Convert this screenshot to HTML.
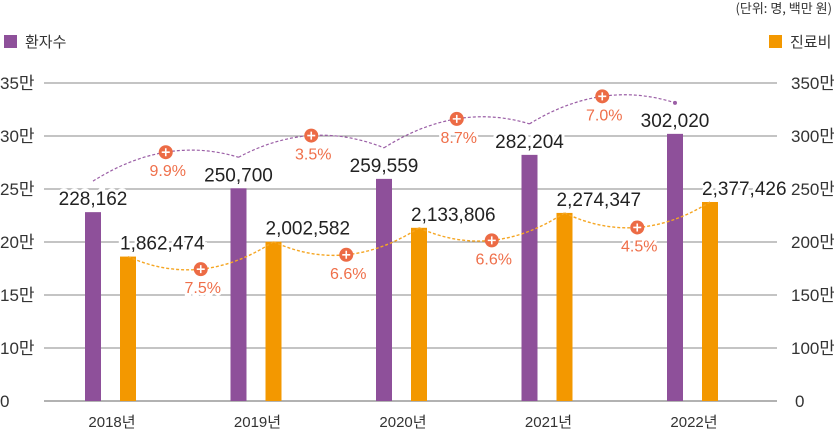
<!DOCTYPE html>
<html><head><meta charset="utf-8"><style>
html,body{margin:0;padding:0;background:#fff;}
svg{display:block;font-family:"Liberation Sans Narrow","Liberation Sans","Noto Sans CJK KR",sans-serif;}
</style></head><body>
<svg id="chart" width="834" height="429" viewBox="0 0 834 429" xmlns="http://www.w3.org/2000/svg">
<text x="832" y="13" text-anchor="end" font-size="13" fill="#333" font-family="Liberation Sans Narrow, Noto Sans CJK KR, sans-serif">(단위: 명, 백만 원)</text>
<g>
<rect x="4" y="35" width="13" height="13" fill="#8e509a"/>
<text x="25" y="47" font-size="15" fill="#333" font-family="Liberation Sans, Noto Sans CJK KR, sans-serif">환자수</text>
</g>
<g>
<rect x="769" y="35" width="13" height="13" fill="#f39800"/>
<text x="790" y="47" font-size="15" fill="#333" font-family="Liberation Sans, Noto Sans CJK KR, sans-serif">진료비</text>
</g>
<g id="grid"></g>
<g id="bars"></g>
<g id="curves"></g>
<g id="labels"></g>
</svg>
<script>
const years = ["2018년","2019년","2020년","2021년","2022년"];
const patients = [228162,250700,259559,282204,302020];
const costs = [1862474,2002582,2133806,2274347,2377426];
const patientGrowth = ["9.9%","3.5%","8.7%","7.0%"];
const costGrowth = ["7.5%","6.6%","6.6%","4.5%"];
const leftTickValues = [50000,100000,150000,200000,250000,300000,350000];
const leftTickLabels = ["0","10만","15만","20만","25만","30만","35만"];
const rightTickValues = [500000,1000000,1500000,2000000,2500000,3000000,3500000];
const rightTickLabels = ["0","100만","150만","200만","250만","300만","350만"];

const NS="http://www.w3.org/2000/svg";
const X0=110, XSTEP=145.5, BASE=401;
function xc(i){return X0+i*XSTEP;}
function yL(v){return Math.min(BASE,242-(v/10000-20)*10.6);}
function yR(v){return Math.min(BASE,242-(v/100000-20)*10.6);}
function mk(tag,attrs,parent){const e=document.createElementNS(NS,tag);for(const k in attrs)e.setAttribute(k,attrs[k]);parent.appendChild(e);return e;}

const grid=document.getElementById('grid');
leftTickValues.forEach((v,i)=>{
  const y=yL(v);
  const l=mk('line',{x1:44,x2:777,y1:y,y2:y,stroke:i===0?'#666':'#8a8a8a','stroke-width':1},grid);
  
  
  const t=mk('text',{x:0,y:y+6,'font-size':17,fill:'#333'},grid);
  t.textContent=leftTickLabels[i];
  
  
});
rightTickValues.forEach((v,i)=>{
  const y=yR(v);
  const t=mk('text',{x:i===0?795:791,y:y+6,'font-size':17,fill:'#333'},grid);
  t.textContent=rightTickLabels[i];
  
  
});
years.forEach((yr,i)=>{
  const t=mk('text',{x:xc(i)+2,y:427,'font-size':15,fill:'#333','text-anchor':'middle'},grid);
  t.textContent=yr;
  
  
});

const bars=document.getElementById('bars');
const labels=document.getElementById('labels');
const curves=document.getElementById('curves');
const pTop=[],cTop=[];
years.forEach((yr,i)=>{
  const c=xc(i);
  const yp=yL(patients[i]);pTop.push(yp);
  const b1=mk('rect',{x:c-25,y:yp,width:16,height:BASE-yp,fill:'#8e509a'},bars);
  
  
  const yc=yR(costs[i]);cTop.push(yc);
  const b2=mk('rect',{x:c+10,y:yc,width:16,height:BASE-yc,fill:'#f39800'},bars);
  
  
  const t1=mk('text',{x:c-17,y:yp-7,'font-size':19,fill:'#222','text-anchor':'middle',stroke:'#fff','stroke-width':6,'paint-order':'stroke'},labels);
  t1.textContent=patients[i].toLocaleString('en-US');
  
  
  const t2=mk('text',{x:c+10,y:yc-7,'font-size':19,fill:'#222',stroke:'#fff','stroke-width':6,'paint-order':'stroke'},labels);
  t2.textContent=costs[i].toLocaleString('en-US');
  
  
});

function marker(x,y,txt,name){
  const c=mk('circle',{cx:x,cy:y,r:7,fill:'#ec6b45'},curves);
  
  
  const p=mk('path',{d:`M${x-4} ${y}h8M${x} ${y-4}v8`,stroke:'#fff','stroke-width':1.6},curves);
  
  
  const t=mk('text',{x:x+2,y:y+24,'font-size':16,fill:'#ef6f4a','text-anchor':'middle',stroke:'#fff','stroke-width':5,'paint-order':'stroke'},curves);
  t.textContent=txt;
  
  
}
for(let i=0;i<years.length-1;i++){
  // patients curve (arches above)
  const x0=xc(i)-17,y0=pTop[i]-31,x1=xc(i+1)-17,y1=pTop[i+1]-31;
  const mx=(x0+x1)/2,my=(y0+y1)/2-34;
  const pp=mk('path',{d:`M${x0} ${y0}Q${mx} ${my} ${x1} ${y1}`,fill:'none',stroke:'#9b5fa6','stroke-width':1.2,'stroke-dasharray':'3 2'},curves);
  
  
  marker((x0+x1)/2,(y0+y1)/2-17,patientGrowth[i],'patients-growth');
  // cost curve (sags below)
  const a0=xc(i)+18,b0=cTop[i],a1=xc(i+1)+18,b1=cTop[i+1];
  const cx=(a0+a1)/2,cy=(b0+b1)/2+40;
  const cp=mk('path',{d:`M${a0} ${b0}Q${cx} ${cy} ${a1} ${b1}`,fill:'none',stroke:'#f5a623','stroke-width':1.4,'stroke-dasharray':'3 2'},curves);
  
  
  marker((a0+a1)/2,(b0+b1)/2+20,costGrowth[i],'cost-growth');
}
const endDot=mk('circle',{cx:xc(4)-17,cy:pTop[4]-31,r:2,fill:'#9b5fa6'},curves);


</script>
</body></html>
